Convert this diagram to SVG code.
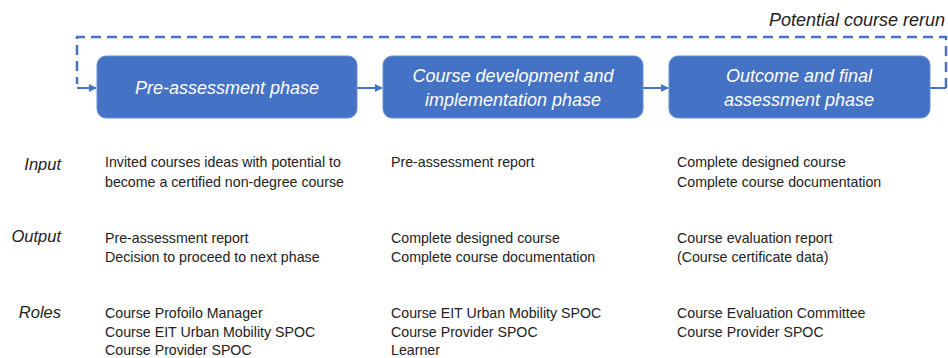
<svg xmlns="http://www.w3.org/2000/svg" width="948" height="358" viewBox="0 0 948 358">
<style>
.box{fill:#4472C4;stroke:#6a8fd0;stroke-width:1}
.bt{font-family:"Liberation Sans",Arial,sans-serif;font-style:italic;font-size:18px;fill:#ffffff;text-anchor:middle}
.lbl{font-family:"Liberation Sans",Arial,sans-serif;font-style:italic;font-size:16.5px;fill:#222;text-anchor:end}
.tx{font-family:"Liberation Sans",Arial,sans-serif;font-size:14.2px;fill:#222}
.con{fill:none;stroke:#4472C4;stroke-width:2}
.dash{fill:none;stroke:#4472C4;stroke-width:2.5;stroke-dasharray:10 6}
</style>
<defs>
<marker id="ah" viewBox="0 0 10 10" refX="9" refY="5" markerWidth="4" markerHeight="4" orient="auto">
<path d="M0,0 L10,5 L0,10 z" fill="#4472C4"/>
</marker>
</defs>
<rect width="948" height="358" fill="#ffffff"/>
<text x="945" y="26" style="font-family:'Liberation Sans',Arial,sans-serif;font-style:italic;font-size:18px;fill:#222;text-anchor:end">Potential course rerun</text>
<g id="connectors">
<path class="dash" d="M946,88 V37 H77 V84"/>
<path class="con" d="M77,88 H96" marker-end="url(#ah)"/>
<path class="con" d="M357,88 H382" marker-end="url(#ah)"/>
<path class="con" d="M643,88 H668" marker-end="url(#ah)"/>
<path class="con" d="M930,88 H946"/>
</g>
<g id="phase1">
<rect class="box" x="97" y="56" width="260" height="62" rx="9"/>
<text class="bt" x="227" y="94">Pre-assessment phase</text>
</g>
<g id="phase2">
<rect class="box" x="383" y="56" width="260" height="62" rx="9"/>
<text class="bt" x="513" y="82">Course development and</text>
<text class="bt" x="513" y="106">implementation phase</text>
</g>
<g id="phase3">
<rect class="box" x="669" y="56" width="261" height="62" rx="9"/>
<text class="bt" x="799" y="82">Outcome and final</text>
<text class="bt" x="799" y="106">assessment phase</text>
</g>
<g id="labels">
<text class="lbl" x="61" y="170">Input</text>
<text class="lbl" x="61" y="242">Output</text>
<text class="lbl" x="61" y="318">Roles</text>
</g>
<g id="col1">
<text class="tx" x="105" y="167">Invited courses ideas with potential to</text>
<text class="tx" x="105" y="187">become a certified non-degree course</text>
<text class="tx" x="105" y="243">Pre-assessment report</text>
<text class="tx" x="105" y="262">Decision to proceed to next phase</text>
<text class="tx" x="105" y="318">Course Profoilo Manager</text>
<text class="tx" x="105" y="336.5">Course EIT Urban Mobility SPOC</text>
<text class="tx" x="105" y="355">Course Provider SPOC</text>
</g>
<g id="col2">
<text class="tx" x="391" y="167">Pre-assessment report</text>
<text class="tx" x="391" y="243">Complete designed course</text>
<text class="tx" x="391" y="262">Complete course documentation</text>
<text class="tx" x="391" y="318">Course EIT Urban Mobility SPOC</text>
<text class="tx" x="391" y="336.5">Course Provider SPOC</text>
<text class="tx" x="391" y="355">Learner</text>
</g>
<g id="col3">
<text class="tx" x="677" y="167">Complete designed course</text>
<text class="tx" x="677" y="187">Complete course documentation</text>
<text class="tx" x="677" y="243">Course evaluation report</text>
<text class="tx" x="677" y="262">(Course certificate data)</text>
<text class="tx" x="677" y="318">Course Evaluation Committee</text>
<text class="tx" x="677" y="336.5">Course Provider SPOC</text>
</g>
</svg>
